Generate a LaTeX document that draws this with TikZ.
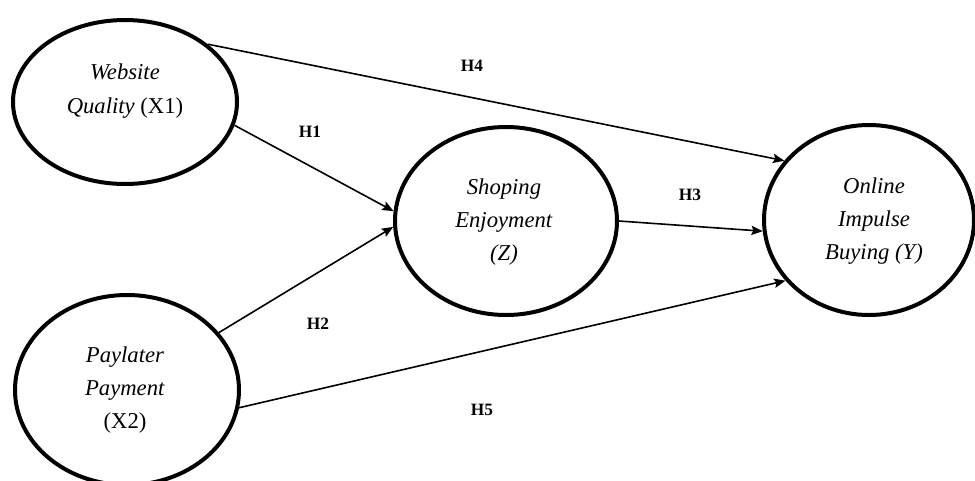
\documentclass[tikz,border=0pt]{standalone}
\usepackage{fontspec}
\setmainfont{Liberation Serif}
\usetikzlibrary{arrows.meta,shapes.geometric}
\begin{document}
\begin{tikzpicture}[x=0.75pt,y=-0.75pt,
  latent/.style={draw, ellipse, line width=3pt, inner sep=0pt},
  caption/.style={align=center, font=\fontsize{17}{25}\selectfont},
  hyp/.style={font=\fontsize{13}{15}\selectfont\bfseries},
  relation/.style={line width=1.2pt, -{Stealth[length=8.5pt,width=7pt,inset=1.5pt]}}]
\useasboundingbox (0,0) rectangle (975,480);

% latent constructs
\node[latent, minimum width=168pt, minimum height=123pt] (x1) at (125,102) {};
\node[latent, minimum width=168pt, minimum height=142.5pt] (x2) at (127,390) {};
\node[latent, minimum width=166.5pt, minimum height=141pt] (z) at (506,221) {};
\node[latent, minimum width=157.5pt, minimum height=142.5pt] (y) at (869,220) {};

% construct names
\node[caption] (tx1) at (125,91) {\textit{Website}\\\textit{Quality} (X1)};
\node[caption] (tx2) at (125,390) {\textit{Paylater}\\\textit{Payment}\\(X2)};
\node[caption] (tz) at (504,222) {\textit{Shoping}\\\textit{Enjoyment}\\\textit{(Z)}};
\node[caption] (ty) at (874,221) {\textit{Online}\\\textit{Impulse}\\\textit{Buying (Y)}};

% hypothesised paths
\draw[relation] (x1.35) -- (y.145);
\draw[relation] (x1.-12) -- (z.175.5);
\draw[relation] (x2.32) -- (z.183);
\draw[relation] (x2.-9) -- (y.216);
\draw[relation] (z.-0.5) -- (y.186.5);

% path labels
\node[hyp] (h4) at (472,66) {H4};
\node[hyp] (h1) at (310,132) {H1};
\node[hyp] (h2) at (318,324) {H2};
\node[hyp] (h5) at (482,410) {H5};
\node[hyp] (h3) at (690,195) {H3};
\end{tikzpicture}
\end{document}
